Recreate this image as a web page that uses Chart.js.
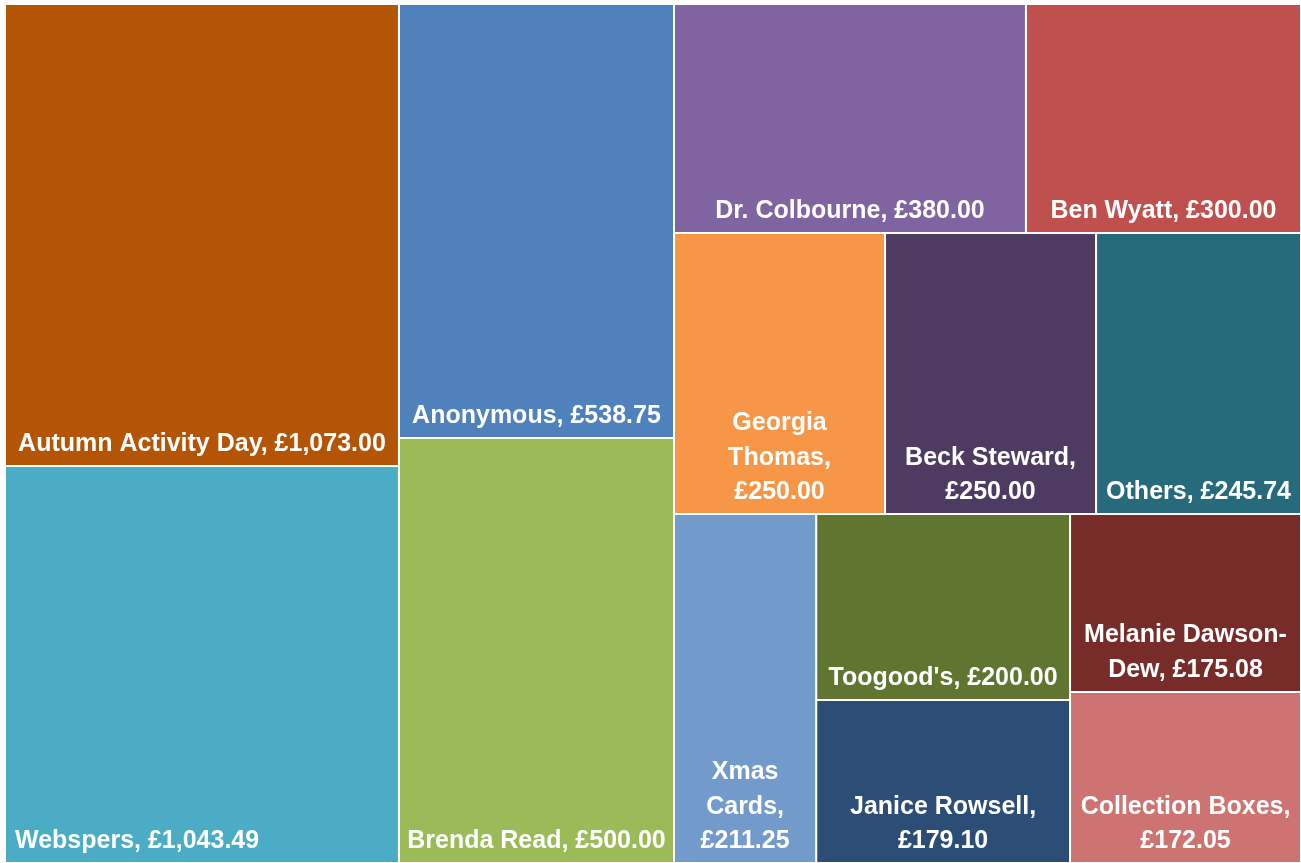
<!DOCTYPE html>
<html>
<head>
<meta charset="utf-8">
<title>Donations treemap</title>
<script src="https://cdn.jsdelivr.net/npm/chart.js@4.4.1/dist/chart.umd.min.js"></script>
<style>
  html, body { margin: 0; padding: 0; background: #fff; }
  #wrap { width: 1301px; height: 863px; }
</style>
</head>
<body>
<div id="wrap"><canvas id="treeChart"></canvas></div>
<script>
const donors = [
  'Autumn Activity Day', 'Webspers', 'Anonymous', 'Brenda Read',
  'Dr. Colbourne', 'Ben Wyatt', 'Georgia Thomas', 'Beck Steward', 'Others',
  'Xmas Cards', "Toogood's", 'Janice Rowsell', 'Melanie Dawson-Dew', 'Collection Boxes'
];
const amounts = [1073.00, 1043.49, 538.75, 500.00, 380.00, 300.00, 250.00, 250.00, 245.74,
                 211.25, 200.00, 179.10, 175.08, 172.05];
// relative cell areas as drawn in the reference (they are not strictly proportional to the amounts there)
const cellSizes = [182.0, 156.4, 119.4, 116.9, 80.6, 63.0, 59.3, 59.3, 57.6,
                   49.6, 47.2, 41.4, 41.1, 39.5];
// which cells share a strip, laid out largest first
const strips = [[0, 1], [2, 3], [4, 5], [6, 7, 8], [9], [10, 11], [12], [13]];
const colours = [
  '#B45405', '#4BACC6', '#4F81BD', '#9BBB59',
  '#8064A2', '#C0504D', '#F79646', '#4E3B62', '#276A7C',
  '#729ACA', '#5F7530', '#2C4D75', '#772C2A', '#CD7371'
];

// treemap domain in value units (same aspect as the plot area)
const W = 1296, H = 859;

function layoutTreemap(sizes, groups, w, h) {
  const total = sizes.reduce((a, b) => a + b, 0);
  const k = (w * h) / total;
  let x = 0, y = 0, rw = w, rh = h;
  const rects = [];
  groups.forEach(g => {
    const area = g.reduce((s, i) => s + sizes[i] * k, 0);
    if (rh <= rw) {
      // vertical strip along the left side
      const sw = area / rh;
      let yy = y;
      g.forEach(i => {
        const ch = sizes[i] * k / sw;
        rects[i] = { x0: x, x1: x + sw, y0: yy, y1: yy + ch };
        yy += ch;
      });
      x += sw; rw -= sw;
    } else {
      // horizontal strip along the top
      const sh = area / rw;
      let xx = x;
      g.forEach(i => {
        const cw = sizes[i] * k / sh;
        rects[i] = { x0: xx, x1: xx + cw, y0: y, y1: y + sh };
        xx += cw;
      });
      y += sh; rh -= sh;
    }
  });
  return rects;
}

function money(v) {
  const parts = v.toFixed(2).split('.');
  return '£' + parts[0].replace(/\B(?=(\d{3})+(?!\d))/g, ',') + '.' + parts[1];
}

// split on spaces, and after hyphens (hyphen stays on the first line)
function wrapText(ctx, text, maxWidth) {
  const tokens = [];
  text.split(' ').forEach((word, wi) => {
    const pieces = word.split(/(?<=-)/);
    pieces.forEach((p, pi) => tokens.push({ t: p, space: wi > 0 && pi === 0 }));
  });
  const lines = [];
  let cur = '';
  tokens.forEach(tok => {
    const test = cur ? cur + (tok.space ? ' ' : '') + tok.t : tok.t;
    if (cur && ctx.measureText(test).width > maxWidth) {
      lines.push(cur);
      cur = tok.t;
    } else {
      cur = test;
    }
  });
  if (cur) lines.push(cur);
  return lines;
}

const rects = layoutTreemap(cellSizes, strips, W, H);

const datasets = rects.map((r, i) => ({
  label: donors[i],
  data: [
    { x: r.x0, y: r.y0 }, { x: r.x1, y: r.y0 },
    { x: r.x1, y: r.y1 }, { x: r.x0, y: r.y1 }, { x: r.x0, y: r.y0 }
  ],
  backgroundColor: colours[i],
  borderColor: '#ffffff',
  borderWidth: 2,
  fill: 'shape',
  pointRadius: 0,
  pointHoverRadius: 0,
  tension: 0
}));

const cellLabels = {
  id: 'cellLabels',
  afterDatasetsDraw(chart, args, opts) {
    const { ctx } = chart;
    const xs = chart.scales.x, ys = chart.scales.y;
    ctx.save();
    ctx.font = opts.font;
    ctx.fillStyle = opts.color;
    ctx.textBaseline = 'alphabetic';
    rects.forEach((r, i) => {
      const left = xs.getPixelForValue(r.x0);
      const right = xs.getPixelForValue(r.x1);
      const bottom = ys.getPixelForValue(r.y1);
      const text = donors[i] + ', ' + money(amounts[i]);
      const lines = wrapText(ctx, text, right - left - 2 * opts.padding);
      const leftAlign = opts.leftAligned.includes(donors[i]);
      ctx.textAlign = leftAlign ? 'left' : 'center';
      const tx = leftAlign ? left + opts.padding + 3 : (left + right) / 2;
      lines.forEach((ln, k) => {
        const by = bottom - opts.bottomGap - (lines.length - 1 - k) * opts.lineHeight;
        ctx.fillText(ln, tx, by);
      });
    });
    ctx.restore();
  }
};

new Chart(document.getElementById('treeChart'), {
  type: 'line',
  data: { datasets: datasets },
  options: {
    responsive: true,
    maintainAspectRatio: false,
    animation: false,
    events: [],
    layout: { padding: { left: 5, top: 4, right: 0, bottom: 0 } },
    scales: {
      x: { type: 'linear', min: 0, max: W, display: false },
      y: { type: 'linear', min: 0, max: H, reverse: true, display: false }
    },
    plugins: {
      legend: { display: false },
      tooltip: { enabled: false },
      cellLabels: {
        font: 'bold 25px "Liberation Sans"',
        color: '#ffffff',
        padding: 7,
        bottomGap: 15,
        lineHeight: 34.5,
        leftAligned: ['Webspers']
      }
    }
  },
  plugins: [cellLabels]
});
</script>
</body>
</html>
